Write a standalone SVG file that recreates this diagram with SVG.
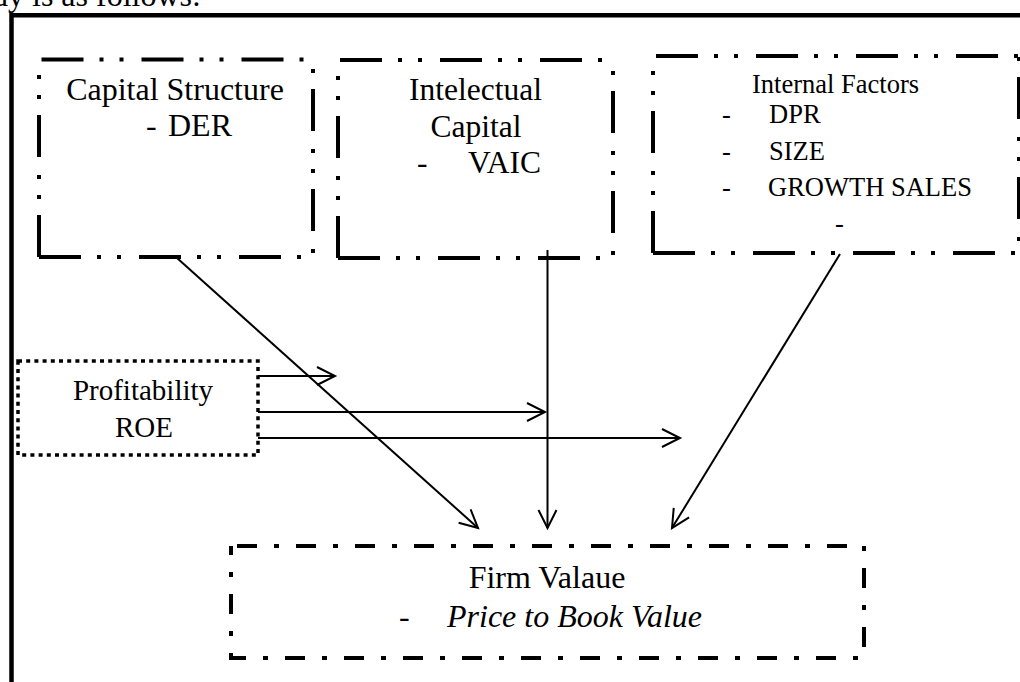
<svg xmlns="http://www.w3.org/2000/svg" width="1020" height="682" viewBox="0 0 1020 682">
  <defs>
    <style>
      .frame { fill: none; stroke: #000; stroke-width: 4.5; }
      .ddd { fill: none; stroke: #000; stroke-width: 4; stroke-dasharray: 42 16 4 16 4 18; stroke-linecap: butt; }
      .dd { fill: none; stroke: #000; stroke-width: 4; stroke-dasharray: 20 17 5 17; stroke-dashoffset: 53; }
      .dot { fill: none; stroke: #000; stroke-width: 3.5; stroke-dasharray: 4 4.2; }
      .conn { fill: none; stroke: #000; stroke-width: 2; marker-end: url(#arrow); }
      text { font-family: "Liberation Serif", "Times New Roman", serif; fill: #000; }
      .t32 { font-size: 32px; }
      .t31 { font-size: 31.5px; }
      .t29 { font-size: 29px; }
      .t26 { font-size: 26.5px; }
      .mid { text-anchor: middle; }
    </style>
    <marker id="arrow" markerUnits="userSpaceOnUse" viewBox="-22 -12 26 24" markerWidth="26" markerHeight="24" refX="0" refY="0" orient="auto">
      <path d="M-18,-9 L0,0 L-18,9" fill="none" stroke="#000" stroke-width="2"/>
    </marker>
  </defs>

  <!-- running text line above the frame -->
  <text class="t32" x="-8" y="6">dy is as follows:</text>

  <!-- outer frame -->
  <path class="frame" d="M11.5,682 V15.3 H1022"/>

  <!-- connectors -->
  <g id="connectors">
    <line class="conn" x1="177" y1="258" x2="478" y2="528"/>
    <line class="conn" x1="547.5" y1="250" x2="547.5" y2="528"/>
    <line class="conn" x1="840" y1="254" x2="672" y2="528"/>
    <line class="conn" x1="258" y1="376" x2="335" y2="376"/>
    <line class="conn" x1="258" y1="412" x2="545" y2="412"/>
    <line class="conn" x1="258" y1="438" x2="680" y2="438"/>
  </g>

  <g id="capital-structure">
    <path class="ddd" d="M39,257 V59.5 H313"/>
    <path class="ddd" d="M39,257 H313 V59.5"/>
    <text class="t32 mid" x="175" y="99.5">Capital Structure</text>
    <text class="t32" x="146" y="136">-</text>
    <text class="t32" x="168" y="136">DER</text>
  </g>

  <g id="intellectual-capital">
    <path class="ddd" d="M338,258 V60 H613"/>
    <path class="ddd" d="M338,258 H613 V60"/>
    <text class="t31 mid" x="475.5" y="100">Intelectual</text>
    <text class="t31 mid" x="476" y="137">Capital</text>
    <text class="t31" x="417" y="173">-</text>
    <text class="t31" x="468" y="173">VAIC</text>
  </g>

  <g id="internal-factors">
    <path class="ddd" d="M653,253 V56 H1019"/>
    <path class="ddd" d="M653,253 H1019 V56"/>
    <text class="t26" x="752" y="93">Internal Factors</text>
    <text class="t26" x="722" y="123">-</text>
    <text class="t26" x="769" y="123">DPR</text>
    <text class="t26" x="722" y="160">-</text>
    <text class="t26" x="769" y="160">SIZE</text>
    <text class="t26" x="722" y="196">-</text>
    <text class="t26" x="768" y="196">GROWTH SALES</text>
    <text class="t26" x="835" y="232">-</text>
  </g>

  <g id="profitability">
    <rect class="dot" x="18" y="361" width="240" height="94"/>
    <text class="t29 mid" x="143" y="400">Profitability</text>
    <text class="t29 mid" x="144" y="437">ROE</text>
  </g>

  <g id="firm-value">
    <path class="dd" d="M231,546 H864 V658 H231 Z"/>
    <text class="t32 mid" x="547" y="588">Firm Valaue</text>
    <text class="t32" x="399" y="627">-</text>
    <text class="t32" x="447" y="627" font-style="italic">Price to Book Value</text>
  </g>
</svg>
